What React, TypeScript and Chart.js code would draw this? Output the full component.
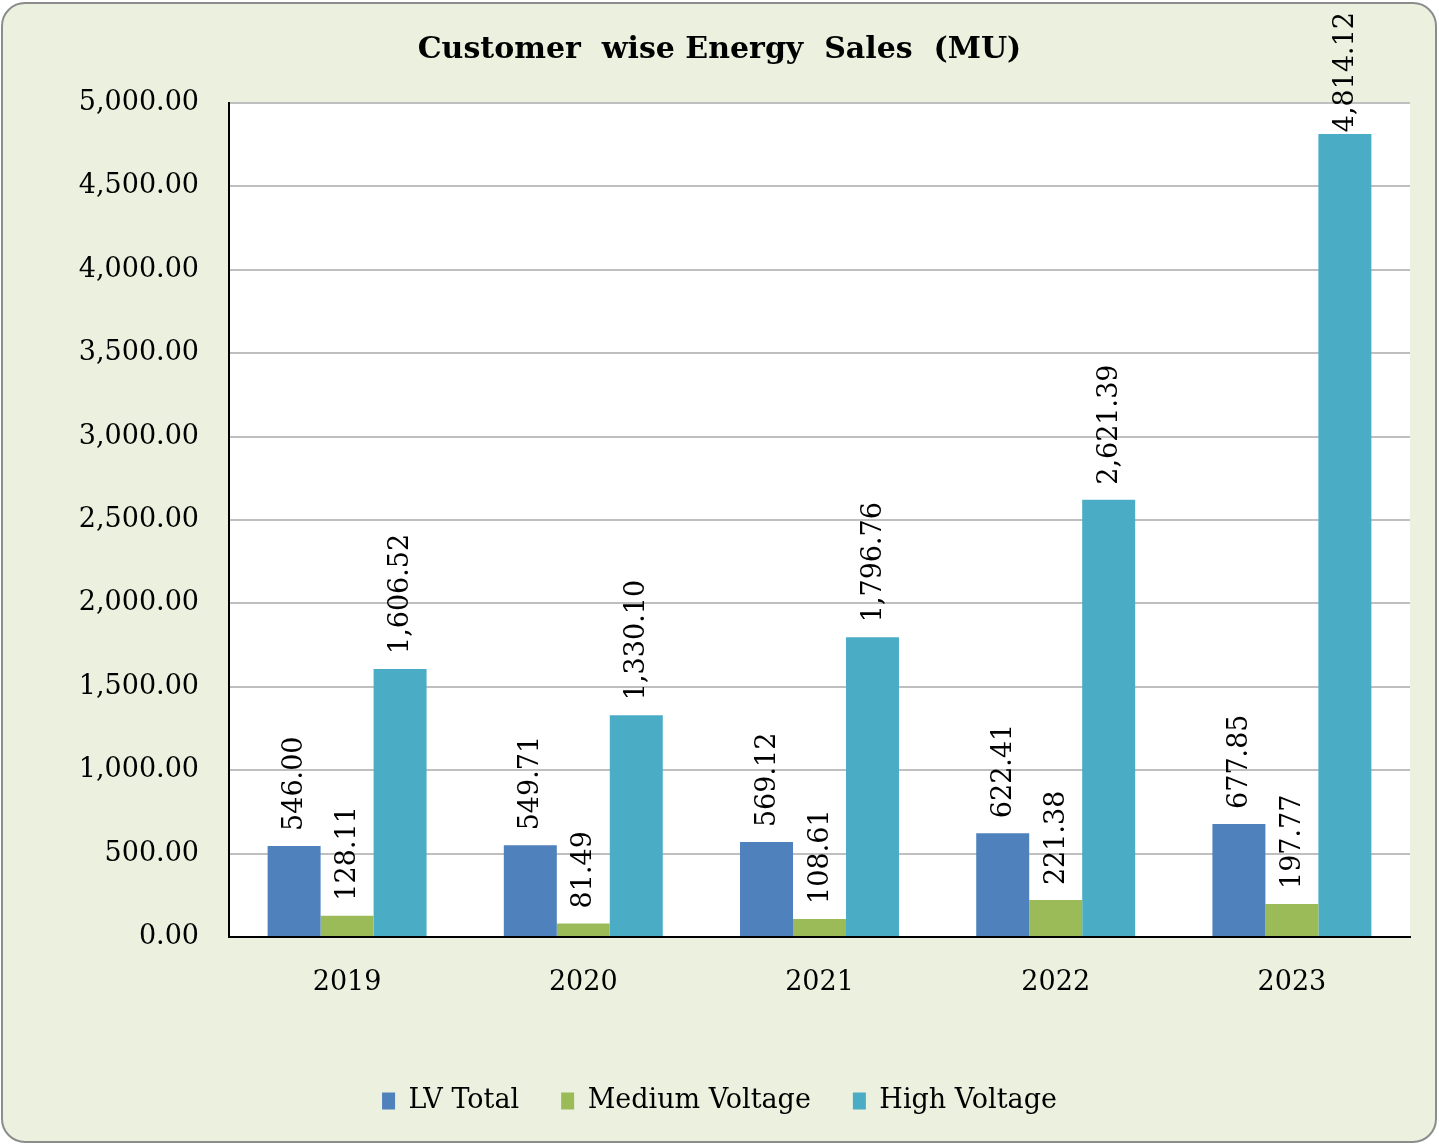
import React, { useEffect, useRef } from "react";
import { Chart, registerables } from "chart.js";

Chart.register(...registerables);

const categories = ["2019", "2020", "2021", "2022", "2023"];
const lvTotal = [546.0, 549.71, 569.12, 622.41, 677.85];
const mediumVoltage = [128.11, 81.49, 108.61, 221.38, 197.77];
const highVoltage = [1606.52, 1330.1, 1796.76, 2621.39, 4814.12];
const seriesNames = ["LV Total", "Medium Voltage", "High Voltage"];
const seriesColors = ["#4F81BD", "#9BBB59", "#4BACC6"];
const titleText = "Customer  wise Energy  Sales  (MU)";

const FONT = "'DejaVu Serif', serif";

const fmt = (v: number) =>
  v.toLocaleString("en-US", { minimumFractionDigits: 2, maximumFractionDigits: 2 });

const plotBg = {
  id: "plotBg",
  beforeDraw(chart: any) {
    const { ctx, chartArea } = chart;
    ctx.save();
    ctx.fillStyle = "#FFFFFF";
    ctx.fillRect(chartArea.left, chartArea.top, chartArea.right - chartArea.left, chartArea.bottom - chartArea.top);
    ctx.restore();
  },
};

const barLabels = {
  id: "barLabels",
  afterDatasetsDraw(chart: any) {
    const { ctx } = chart;
    ctx.save();
    ctx.font = `27px ${FONT}`;
    ctx.fillStyle = "#000000";
    ctx.textAlign = "left";
    ctx.textBaseline = "middle";
    chart.data.datasets.forEach((ds: any, di: number) => {
      const meta = chart.getDatasetMeta(di);
      meta.data.forEach((bar: any, i: number) => {
        const text = fmt(ds.data[i]);
        const w = ctx.measureText(text).width;
        let start = bar.y - 15;
        if (start - w < 12) start = 12 + w;
        ctx.save();
        ctx.translate(bar.x, start);
        ctx.rotate(-Math.PI / 2);
        ctx.fillText(text, 0, 1);
        ctx.restore();
      });
    });
    ctx.restore();
  },
};

export default function App() {
  const ref = useRef<HTMLCanvasElement | null>(null);
  useEffect(() => {
    if (!ref.current) return;
    const chart = new Chart(ref.current, {
      type: "bar",
      data: {
        labels: categories,
        datasets: [lvTotal, mediumVoltage, highVoltage].map((d, i) => ({
          label: seriesNames[i],
          data: d,
          backgroundColor: seriesColors[i],
          borderWidth: 0,
          categoryPercentage: 0.673,
          barPercentage: 1,
        })),
      },
      options: {
        responsive: false,
        animation: false,
        layout: { padding: { left: 29, right: 29, top: 0, bottom: 21.5 } },
        plugins: {
          tooltip: { enabled: false },
          title: {
            display: true,
            text: titleText,
            color: "#000000",
            font: { family: FONT, size: 30, weight: "bold" },
            padding: { top: 32, bottom: 35 },
          },
          legend: {
            position: "bottom",
            labels: {
              color: "#000000",
              font: { family: FONT, size: 27 },
              boxWidth: 13,
              boxHeight: 17,
              padding: 42,
            },
          },
        },
        scales: {
          x: {
            grid: { display: false },
            border: { color: "#000000", width: 2 },
            ticks: { color: "#000000", font: { family: FONT, size: 27 }, padding: 22 },
            afterFit: (s: any) => {
              s.height = 108.5;
            },
          },
          y: {
            min: 0,
            max: 5000,
            grid: { color: "#BFBFBF", lineWidth: 2, drawTicks: false },
            border: { color: "#000000", width: 2 },
            ticks: {
              stepSize: 500,
              color: "#000000",
              padding: 30,
              font: { family: FONT, size: 27 },
              callback: (v: any) => fmt(Number(v)),
            },
            afterFit: (s: any) => {
              s.width = 200;
            },
          },
        },
      },
      plugins: [plotBg, barLabels],
    });
    return () => chart.destroy();
  }, []);

  return (
    <div style={{ position: "fixed", left: 0, top: 0, width: 1439, height: 1146 }}>
      <div
        style={{
          position: "absolute",
          left: 1,
          top: 2,
          width: 1432,
          height: 1137,
          background: "#EBF1DE",
          border: "2px solid #8C8C8C",
          borderRadius: 24,
        }}
      />
      <canvas ref={ref} width={1439} height={1146} style={{ position: "absolute", left: 0, top: 0 }} />
    </div>
  );
}
